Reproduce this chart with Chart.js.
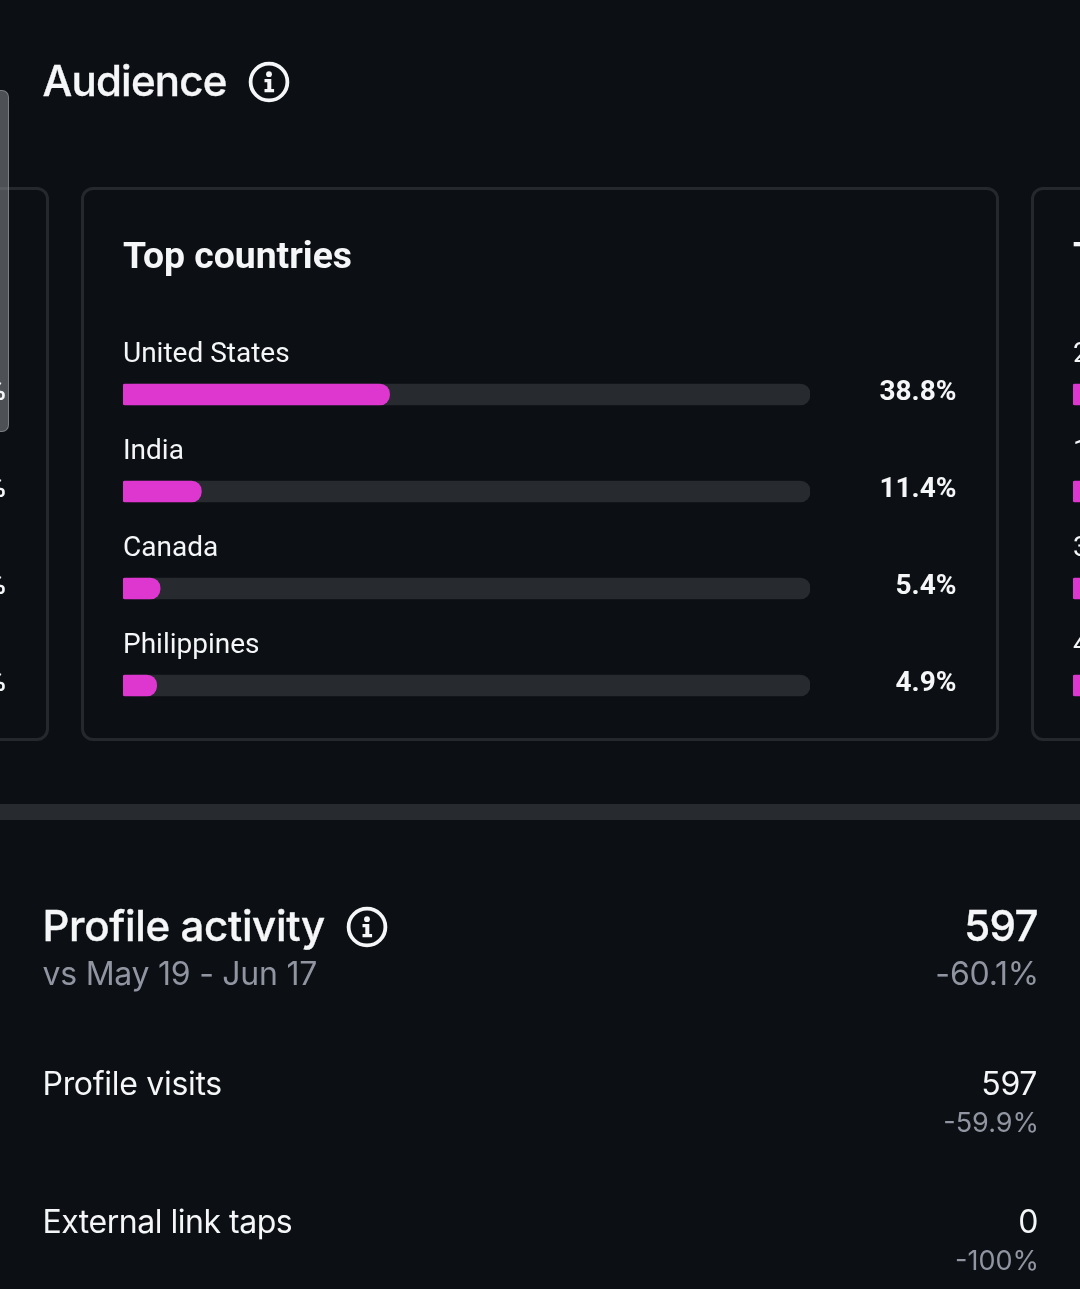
<!DOCTYPE html>
<html>
<head>
<meta charset="utf-8">
<script src="https://cdn.jsdelivr.net/npm/chart.js@4"></script>
<style>
  html, body { margin: 0; padding: 0; background: #0c0f14; }
  #page { position: relative; width: 1080px; height: 1289px; overflow: hidden; background: #0c0f14; font-family: Inter, sans-serif; color: #f5f6f7; }
  #page > * { position: absolute; }
  .t { white-space: nowrap; line-height: 1; }
  .r { right: 42px; text-align: right; }
  .head { font-size: 42px; font-weight: 500; -webkit-text-stroke: 0.35px #f5f6f7; }
  .body { font-size: 32px; }
  .grey { color: #9095a1; }
  .card { top: 186.5px; height: 548px; border: 3px solid #25282d; border-radius: 12px; box-sizing: content-box; }
  canvas { position: absolute; top: 0; }
</style>
</head>
<body>
<div id="page">
  <div class="card" style="left:-60px;width:103px"></div>
  <div class="card" style="left:81px;width:911.5px"></div>
  <div class="card" style="left:1031px;width:300px"></div>

  <div style="left:0;top:90px;width:9px;height:342px;box-sizing:border-box;background:rgba(128,132,136,.56);border:1px solid rgba(170,174,178,.5);border-left:0;border-radius:0 7px 7px 0"></div>

  <canvas id="mainChart" width="1080" height="1289" style="left:0"></canvas>
  <canvas id="nextChart" width="300" height="1289" style="left:1073px"></canvas>

  <div class="t head" style="left:42.5px;top:59.5px;letter-spacing:-0.8px">Audience</div>
  <svg style="left:248px;top:60.5px" width="42" height="42" viewBox="0 0 42 42"><circle cx="21" cy="21" r="18.4" fill="none" stroke="#f5f6f7" stroke-width="3.8"/><circle cx="21" cy="13.2" r="2.9" fill="#f5f6f7"/><path d="M16.5 18h6.8v10h2.8v3.2h-9.6V28h2.8v-6.8h-2.8z" fill="#f5f6f7"/></svg>

  <div class="t" style="left:123px;top:233px;font:700 37.3px Roboto">Top countries</div>
  <div class="t" style="left:1073px;top:233px;font:700 37.3px Roboto">T</div>

  <div style="left:0;top:804px;width:1080px;height:16px;background:#272a2f"></div>

  <div class="t head" style="left:42.5px;top:904.5px;letter-spacing:-0.35px">Profile activity</div>
  <svg style="left:346px;top:905.5px" width="42" height="42" viewBox="0 0 42 42"><circle cx="21" cy="21" r="18.4" fill="none" stroke="#f5f6f7" stroke-width="3.8"/><circle cx="21" cy="13.2" r="2.9" fill="#f5f6f7"/><path d="M16.5 18h6.8v10h2.8v3.2h-9.6V28h2.8v-6.8h-2.8z" fill="#f5f6f7"/></svg>
  <div class="t grey" style="left:42.5px;top:958px;font-size:32px;letter-spacing:-0.25px">vs May 19 - Jun 17</div>
  <div class="t r head" style="top:905px;letter-spacing:-0.6px">597</div>
  <div class="t r grey" style="top:958px;right:41px;font-size:32px;letter-spacing:-0.2px">-60.1%</div>

  <div class="t body" style="left:42.5px;top:1068px;letter-spacing:-0.3px">Profile visits</div>
  <div class="t r body" style="top:1068px;right:43px;letter-spacing:-0.38px">597</div>
  <div class="t r grey" style="top:1109px;right:41px;font-size:27px">-59.9%</div>

  <div class="t body" style="left:42.5px;top:1206px;letter-spacing:-0.48px">External link taps</div>
  <div class="t r body" style="top:1206px;letter-spacing:-0.38px">0</div>
  <div class="t r grey" style="top:1247px;right:41px;font-size:27px">-100%</div>
</div>

<script>
// Top countries card
const countries = ["United States", "India", "Canada", "Philippines"];
const countryShare = [38.8, 11.4, 5.4, 4.9];
const countryLabels = ["38.8%", "11.4%", "5.4%", "4.9%"];
const track = [100, 100, 100, 100];

// neighbours, only a sliver of each shows: values are a guess
const nextCategories = ["25-34", "18-24", "35-44", "45-54"];
const nextShare = [35, 30, 15, 10];
const prevLabels = ["%", "%", "%", "%"];

const PINK = "#dd37cf";
const TRACK = "#272a2f";
const WHITE = "#f5f6f7";

// labels above the bars and percentages on the right
const rowText = {
  id: "rowText",
  afterDraw(chart, args, opts) {
    const { ctx, scales: { x, y } } = chart;
    ctx.save();
    ctx.textBaseline = "alphabetic";
    chart.data.labels.forEach((name, i) => {
      const cy = y.getPixelForValue(i);
      ctx.fillStyle = WHITE;
      ctx.textAlign = "left";
      ctx.font = "400 28px Roboto";
      ctx.fillText(name, x.left, cy - 33);
      if (opts.values) {
        ctx.textAlign = "right";
        ctx.font = "700 28px Roboto";
        ctx.fillText(opts.values[i], 956.5, cy + 5);
        ctx.fillText(prevLabels[i], 6, cy + 5);
      }
    });
    ctx.restore();
  }
};

function barCard(id, labels, values, left, right, valueLabels) {
  return new Chart(document.getElementById(id), {
    type: "bar",
    plugins: [rowText],
    data: {
      labels: labels,
      datasets: [
        {
          data: values,
          backgroundColor: PINK,
          borderSkipped: false,
          borderRadius: { topLeft: 2, bottomLeft: 2, topRight: 10, bottomRight: 10 },
          barThickness: 21,
          order: 1
        },
        {
          data: track,
          backgroundColor: TRACK,
          borderSkipped: false,
          borderRadius: 10,
          barThickness: 21,
          order: 2
        }
      ]
    },
    options: {
      indexAxis: "y",
      responsive: false,
      animation: false,
      devicePixelRatio: 1,
      layout: { padding: { left: left, right: right, top: 346, bottom: 555 } },
      datasets: { bar: { grouped: false } },
      scales: {
        x: { display: false, min: 0, max: 100 },
        y: { display: false }
      },
      plugins: {
        legend: { display: false },
        tooltip: { enabled: false },
        rowText: { values: valueLabels }
      }
    }
  });
}

barCard("mainChart", countries, countryShare, 123, 270, countryLabels);
barCard("nextChart", nextCategories, nextShare, 0, 0, null);
</script>
</body>
</html>
